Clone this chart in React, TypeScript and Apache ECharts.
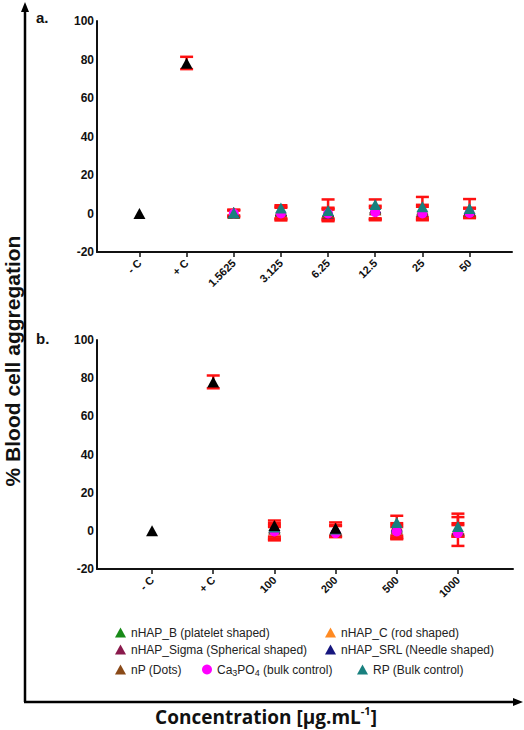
import React, { useEffect, useRef } from "react";
import * as echarts from "echarts";

// Categories
const catsA = ["- C", "+ C", "1.5625", "3.125", "6.25", "12.5", "25", "50"];
const catsB = ["- C", "+ C", "100", "200", "500", "1000"];
const yTicks = [-20, 0, 20, 40, 60, 80, 100];

// Panel a values (% blood cell aggregation)
const controlA = [0, 78, null, null, null, null, null, null];
const nHapBA = [null, null, 0.5, 1.5, 1, 2.5, 2, 1.5];
const nHapCA = [null, null, 0, 2, 0.5, 3, 2.5, 1.5];
const nHapSigmaA = [null, null, 0, 1, 0, 2, 1, 1];
const nHapSrlA = [null, null, 0.5, 1.5, 1, 3, 2, 2];
const nPA = [null, null, 0, 1, 0.5, 2, 1.5, 1];
const ca3po4A = [null, null, 0, 0, 0, 0.7, 0, 0.3];
const rpA = [null, null, 0.3, 2.8, 1.5, 4.7, 3.5, 2.6];

// Panel b values
const controlB = [0, 78, 2.8, 1.4, null, null];
const nHapBB = [null, null, 1.5, 0.5, 2, 1];
const nHapCB = [null, null, 2, 1, 3, 1.5];
const nHapSigmaB = [null, null, 1, 0, 1.5, 0.5];
const nHapSrlB = [null, null, 2, 1, 2.5, 1];
const nPB = [null, null, 1, 0.5, 1, 0];
const ca3po4B = [null, null, -0.3, -1.2, -0.3, -1.2];
const rpB = [null, null, 2, 1, 4.4, 2.3];

// Error bars: [category index, low, high]
const errA = [
  [1, 75, 81.4],
  [2, -2, 2], [2, -1.5, 1.5], [2, -1, 1.8],
  [3, -3.6, 4.3], [3, -2.5, 3], [3, -3, 3.5],
  [4, -4, 7.3], [4, -3, 3], [4, -2.5, 2], [4, -3.5, 2.5],
  [5, -3, 7.3], [5, -2.5, 4], [5, -3.5, 3],
  [6, -3.5, 8.6], [6, -3, 4.5], [6, -2, 3.5],
  [7, -2.4, 7.5], [7, -1.5, 2.5], [7, -2, 3],
];
const errB = [
  [1, 74.7, 81.4],
  [2, -5, 5.4], [2, -4, 4], [2, -3, 3], [2, -4.5, 2],
  [3, -3.3, 4.4], [3, -2.5, 3], [3, -3, 2.5],
  [4, -4.4, 7.9], [4, -3.5, 4], [4, -2.5, 3], [4, -4, 2],
  [5, -7.9, 9], [5, -3, 7.2], [5, -3, 4], [5, -2, 3],
];

const NAMES = {
  b: "nHAP_B (platelet shaped)",
  c: "nHAP_C (rod shaped)",
  sigma: "nHAP_Sigma (Spherical shaped)",
  srl: "nHAP_SRL (Needle shaped)",
  np: "nP (Dots)",
  ca: "Ca3PO4 (bulk control)",
  rp: "RP (Bulk control)",
};
const COLORS = {
  b: "#188a18",
  c: "#ff8a22",
  sigma: "#8a1a4c",
  srl: "#16167e",
  np: "#8a4a18",
  ca: "#ff00ff",
  rp: "#18807e",
};

const FONT = '"Liberation Sans", Arial, sans-serif';

function pairs(arr: (number | null)[]) {
  const out: number[][] = [];
  arr.forEach((v, i) => {
    if (v !== null) out.push([i, v]);
  });
  return out;
}

function errSeries(data: number[][], idx: number) {
  return {
    type: "custom",
    xAxisIndex: idx,
    yAxisIndex: idx,
    z: 1,
    silent: true,
    data,
    renderItem: (params: any, api: any) => {
      const x = api.value(0);
      const lo = api.coord([x, api.value(1)]);
      const hi = api.coord([x, api.value(2)]);
      const w = 6.5;
      const st = { stroke: "#ff1010", lineWidth: 2.5 };
      return {
        type: "group",
        children: [
          { type: "line", shape: { x1: lo[0], y1: lo[1], x2: hi[0], y2: hi[1] }, style: st },
          { type: "line", shape: { x1: lo[0] - w, y1: lo[1], x2: lo[0] + w, y2: lo[1] }, style: st },
          { type: "line", shape: { x1: hi[0] - w, y1: hi[1], x2: hi[0] + w, y2: hi[1] }, style: st },
        ],
      };
    },
  };
}

function scatter(name: string, color: string, data: (number | null)[], idx: number, z: number, symbol = "triangle", size: any = [12, 11]) {
  return {
    type: "scatter",
    name,
    xAxisIndex: idx,
    yAxisIndex: idx,
    z,
    symbol,
    symbolSize: size,
    itemStyle: { color, opacity: 1 },
    data: pairs(data),
  };
}

function xAxis(cats: string[], idx: number) {
  const vals = cats.map((_, i) => i);
  return {
    type: "value",
    gridIndex: idx,
    min: -0.9,
    max: cats.length - 0.1,
    splitLine: { show: false },
    axisLine: { show: true, onZero: false, lineStyle: { color: "#111", width: 2 } },
    axisTick: { show: true, customValues: vals, length: 5, lineStyle: { color: "#111", width: 1.5 } },
    axisLabel: {
      customValues: vals,
      rotate: 45,
      margin: 9,
      color: "#111",
      fontFamily: FONT,
      fontWeight: "bold",
      fontSize: 11,
      formatter: (v: number) => cats[Math.round(v)] ?? "",
    },
  };
}

function yAxis(idx: number) {
  return {
    type: "value",
    gridIndex: idx,
    min: yTicks[0],
    max: yTicks[yTicks.length - 1],
    interval: 20,
    splitLine: { show: false },
    axisLine: { show: true, onZero: false, lineStyle: { color: "#111", width: 2 } },
    axisTick: { show: false },
    axisLabel: { color: "#111", fontFamily: FONT, fontWeight: "bold", fontSize: 12, margin: 3 },
  };
}

function legendItem(key: string, left: number, top: number, icon = "triangle") {
  return {
    left,
    top,
    selectedMode: false,
    itemWidth: icon === "circle" ? 10 : 11,
    itemHeight: 10,
    itemGap: 0,
    data: [{ name: (NAMES as any)[key], icon }],
    formatter: (n: string) => (n === NAMES.ca ? "Ca{sub|3}PO{sub|4} (bulk control)" : n),
    textStyle: {
      fontFamily: FONT,
      fontSize: 12,
      color: "#222",
      lineHeight: 15,
      rich: { sub: { fontSize: 9, fontFamily: FONT, color: "#222", verticalAlign: "bottom", lineHeight: 15, padding: [6, 0, 0, 0] } },
    },
  };
}

export default function App() {
  const ref = useRef<HTMLDivElement>(null);
  useEffect(() => {
    const chart = echarts.init(ref.current!, null, { renderer: "svg" });
    const series: any[] = [errSeries(errA, 0), errSeries(errB, 1)];
    const sets: [string, (number | null)[], (number | null)[], number][] = [
      ["b", nHapBA, nHapBB, 2],
      ["c", nHapCA, nHapCB, 2],
      ["sigma", nHapSigmaA, nHapSigmaB, 2],
      ["srl", nHapSrlA, nHapSrlB, 2],
      ["np", nPA, nPB, 2],
    ];
    sets.forEach(([k, a, b, z]) => {
      series.push(scatter((NAMES as any)[k], (COLORS as any)[k], a, 0, z));
      series.push(scatter((NAMES as any)[k], (COLORS as any)[k], b, 1, z));
    });
    series.push(scatter(NAMES.ca, COLORS.ca, ca3po4A, 0, 3, "circle", 10));
    series.push(scatter(NAMES.ca, COLORS.ca, ca3po4B, 1, 3, "circle", 10));
    series.push(scatter(NAMES.rp, COLORS.rp, rpA, 0, 4));
    series.push(scatter(NAMES.rp, COLORS.rp, rpB, 1, 4));
    series.push(scatter("Control", "#000", controlA, 0, 5));
    series.push(scatter("Control", "#000", controlB, 1, 5));

    chart.setOption({
      animation: false,
      backgroundColor: "#fff",
      grid: [
        { left: 97, top: 21, width: 415, height: 231 },
        { left: 97, top: 340, width: 416, height: 229 },
      ],
      xAxis: [xAxis(catsA, 0), xAxis(catsB, 1)],
      yAxis: [yAxis(0), yAxis(1)],
      legend: [
        legendItem("b", 110, 620),
        legendItem("c", 320, 620),
        legendItem("sigma", 110, 637),
        legendItem("srl", 320, 637),
        legendItem("np", 110, 657),
        legendItem("ca", 197, 657, "circle"),
        legendItem("rp", 352, 657),
      ],
      graphic: [
        { type: "line", shape: { x1: 25, y1: 702, x2: 25, y2: 10 }, style: { stroke: "#000", lineWidth: 2.5 } },
        { type: "polygon", shape: { points: [[25, 2], [21, 12], [29, 12]] }, style: { fill: "#000" } },
        { type: "line", shape: { x1: 24, y1: 702, x2: 514, y2: 702 }, style: { stroke: "#000", lineWidth: 2.5 } },
        { type: "polygon", shape: { points: [[523, 702], [513, 698], [513, 706]] }, style: { fill: "#000" } },
        { type: "text", x: 36, y: 17, style: { text: "a.", font: `bold 15px ${FONT}`, fill: "#111", textVerticalAlign: "middle" } },
        { type: "text", x: 36, y: 338, style: { text: "b.", font: `bold 15px ${FONT}`, fill: "#111", textVerticalAlign: "middle" } },
        {
          type: "text",
          x: 12,
          y: 361,
          rotation: Math.PI / 2,
          style: { text: "% Blood cell aggregation", font: `bold 21px ${FONT}`, fill: "#111", textAlign: "center", textVerticalAlign: "middle" },
        },
        {
          type: "text",
          x: 266,
          y: 717,
          style: {
            text: "Concentration [µg.mL{sup|-1}]",
            fontFamily: '"Open Sans", sans-serif',
            fontWeight: "bold",
            fontSize: 19,
            fill: "#111",
            textAlign: "center",
            textVerticalAlign: "middle",
            lineHeight: 24,
            rich: { sup: { fontSize: 11, fontFamily: '"Open Sans", sans-serif', fontWeight: "bold", fill: "#111", verticalAlign: "top", lineHeight: 24 } },
          },
        },
      ],
      series,
    });
    return () => chart.dispose();
  }, []);
  return <div ref={ref} style={{ position: "absolute", left: 0, top: 0, width: 524, height: 730 }} />;
}
